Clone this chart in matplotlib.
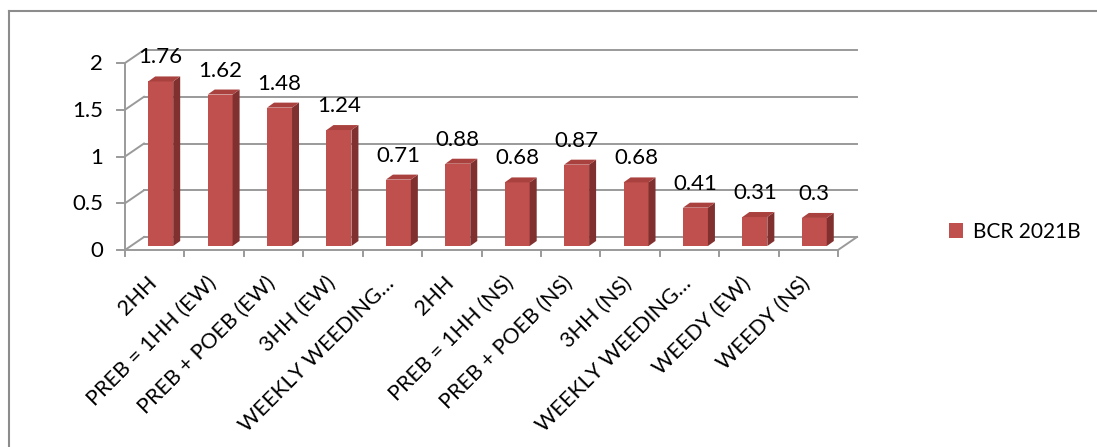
import matplotlib
matplotlib.use('Agg')
import matplotlib.pyplot as plt
import matplotlib.transforms as mt
from matplotlib.patches import Polygon
from matplotlib.lines import Line2D

categories = ["2HH", "PREB = 1HH (EW)", "PREB + POEB (EW)", "3HH (EW)", "WEEKLY WEEDING…",
              "2HH", "PREB = 1HH (NS)", "PREB + POEB (NS)", "3HH (NS)", "WEEKLY WEEDING…",
              "WEEDY (EW)", "WEEDY (NS)"]
values = [1.76, 1.62, 1.48, 1.24, 0.71, 0.88, 0.68, 0.87, 0.68, 0.41, 0.31, 0.3]
series_name = "BCR 2021B"
yticks = [0, 0.5, 1, 1.5, 2]
ytick_labels = ["0", "0.5", "1", "1.5", "2"]

FONT = ['Lato', 'DejaVu Sans']
plt.rcParams['font.family'] = FONT

W, H = 1097, 447
fig = plt.figure(figsize=(W / 100, H / 100), dpi=100)
ax = fig.add_axes([125 / W, 1 - 250 / H, 713 / W, 187 / H])
n = len(values)
ax.set_xlim(0, n)
ax.set_ylim(0, 2)
ax.axis('off')

front = '#C0504D'
side = '#80302E'
top = '#A9423F'
gc = '#9A9A9A'
glw = 1.4
ident = mt.IdentityTransform()


def off(dx, dy):
    return mt.offset_copy(ax.transData, fig=fig, x=dx, y=dy, units='dots')


# figure border
fig.add_artist(Line2D([9 / W, 1.0], [1 - 11 / H, 1 - 11 / H], transform=fig.transFigure,
                      color='#8C8C8C', lw=1.5))
fig.add_artist(Line2D([9 / W, 9 / W], [1 - 11 / H, 0], transform=fig.transFigure,
                      color='#8C8C8C', lw=1.5))

DX, DY = 19, 13
back = off(DX, DY)
for t, lab in zip(yticks, ytick_labels):
    ax.plot([0, n], [t, t], transform=back, color=gc, lw=glw, clip_on=False, zorder=1)
    p = ax.transData.transform((0, t))
    ax.add_line(Line2D([p[0], p[0] + DX], [p[1], p[1] + DY], transform=ident,
                       color=gc, lw=glw, clip_on=False, zorder=1))
    ax.add_line(Line2D([p[0] - 8, p[0]], [p[1], p[1]], transform=ident,
                       color=gc, lw=glw, clip_on=False, zorder=1))
    ax.text(p[0] - 22, p[1] - 1, lab, transform=ident,
            ha='right', va='center', fontsize=16)
# right floor diagonal
p = ax.transData.transform((n, 0))
ax.add_line(Line2D([p[0], p[0] + DX], [p[1], p[1] + DY], transform=ident,
                   color=gc, lw=glw, clip_on=False, zorder=1))
# front axes
ax.plot([0, n], [0, 0], color=gc, lw=glw, clip_on=False, zorder=1)
ax.plot([0, 0], [0, 2], color=gc, lw=glw, clip_on=False, zorder=1)
for i in range(n + 1):
    p = ax.transData.transform((i, 0))
    ax.add_line(Line2D([p[0], p[0]], [p[1], p[1] - 6], transform=ident,
                       color=gc, lw=glw, clip_on=False, zorder=1))

# bars
bw = 0.42
bt = off(6, 4)
x = [i + 0.5 for i in range(n)]
bars = ax.bar(x, values, width=bw, color=front, transform=bt, zorder=3,
              label=series_name, clip_on=False)
BX, BY = 7, 5
for xi, v in zip(x, values):
    xl, xr = xi - bw / 2, xi + bw / 2
    p0, p1 = bt.transform([(xr, 0), (xr, v)])
    ax.add_patch(Polygon([p0, p1, p1 + [BX, BY], p0 + [BX, BY]], closed=True,
                         transform=ident, facecolor=side, edgecolor='none',
                         zorder=3, clip_on=False))
    pl, pr = bt.transform([(xl, v), (xr, v)])
    ax.add_patch(Polygon([pl, pr, pr + [BX, BY], pl + [BX, BY]], closed=True,
                         transform=ident, facecolor=top, edgecolor='none',
                         zorder=3, clip_on=False))
    ax.text(xi, v, f"{v:g}", transform=off(6, 28), ha='center', va='center',
            fontsize=16, zorder=5)

# category labels
for xi, c in zip(x, categories):
    ax.text(xi, 0, c, transform=off(-1, -30), ha='right', va='center',
            rotation=45, rotation_mode='anchor', fontsize=15.5)

fig.legend(handles=[bars], labels=[series_name], loc='center left',
           bbox_to_anchor=(930 / W, 1 - 232 / H), frameon=False, fontsize=15,
           handlelength=0.7, handleheight=0.7, handletextpad=0.45)

fig.savefig('out.png', dpi=100, facecolor='white')
